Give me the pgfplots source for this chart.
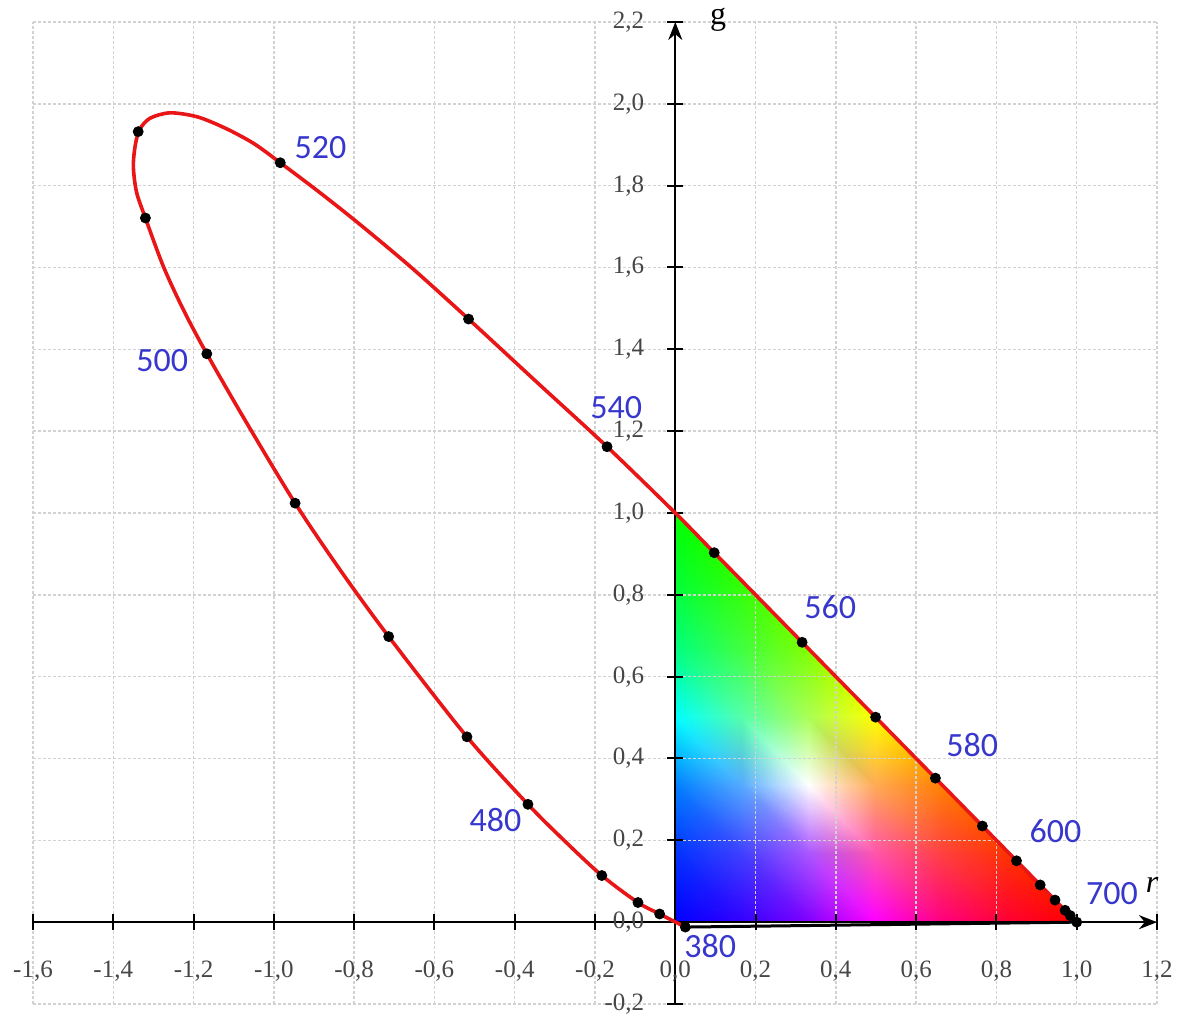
\documentclass[border=0pt]{standalone}
\usepackage{fontspec}
\setmainfont{Liberation Serif}
\newfontfamily\lblfont{Carlito}
\usepackage{pgfplots}
\pgfplotsset{compat=1.18}
\usetikzlibrary{arrows.meta}
\definecolor{lblblue}{RGB}{55,55,205}
\definecolor{ticklbl}{RGB}{70,70,70}
\definecolor{curvered}{RGB}{232,22,22}
\begin{document}
\begin{tikzpicture}
\begin{axis}[
  scale only axis,
  width=562pt, height=491pt,
  xmin=-1.6, xmax=1.2, ymin=-0.2, ymax=2.2,
  axis lines=middle,
  set layers=standard,
  clip=false,
  axis line style={line width=1.2pt, -{Stealth[length=9pt,width=7pt]}},
  xtick={-1.6,-1.4,-1.2,-1.0,-0.8,-0.6,-0.4,-0.2,0,0.2,0.4,0.6,0.8,1.0,1.2},
  ytick={-0.2,0,0.2,0.4,0.6,0.8,1.0,1.2,1.4,1.6,1.8,2.0,2.2},
  hide obscured x ticks=false, hide obscured y ticks=false,
  grid=major,
  grid style={gray!35, line width=0.7pt, dash pattern=on 1.5pt off 1pt},
  major tick length=8pt,
  tick style={black, line width=1pt},
  /pgf/number format/.cd, use comma, fixed, fixed zerofill, precision=1, assume math mode=true,
  /pgfplots/.cd,
  x tick label style={font=\fontsize{12.5}{14}\selectfont, text=ticklbl, yshift=-12pt},
  y tick label style={font=\fontsize{12.5}{14}\selectfont, text=ticklbl, xshift=-8pt},
]
% colour triangle (vertex colours given explicitly)
\addplot[patch, patch type=triangle, shader=interp, mesh/color input=explicit,
  point meta=explicit symbolic, on layer=axis background] table[meta=c] {
x y c
0 0 rgb=0,0,1
0.1667 0 rgb=0.2,0,1
0 0.1667 rgb=0,0.2,1
0.1667 0 rgb=0.2,0,1
0.3333 0 rgb=0.5,0,1
0.1667 0.1667 rgb=0.25,0.25,1
0.3333 0 rgb=0.5,0,1
0.5 0 rgb=1,0,1
0.3333 0.1667 rgb=0.667,0.333,1
0.5 0 rgb=1,0,1
0.6667 0 rgb=1,0,0.5
0.5 0.1667 rgb=1,0.333,0.667
0.6667 0 rgb=1,0,0.5
0.8333 0 rgb=1,0,0.2
0.6667 0.1667 rgb=1,0.25,0.25
0.8333 0 rgb=1,0,0.2
1 0 rgb=1,0,0
0.8333 0.1667 rgb=1,0.2,0
0.1667 0 rgb=0.2,0,1
0.1667 0.1667 rgb=0.25,0.25,1
0 0.1667 rgb=0,0.2,1
0.3333 0 rgb=0.5,0,1
0.3333 0.1667 rgb=0.667,0.333,1
0.1667 0.1667 rgb=0.25,0.25,1
0.5 0 rgb=1,0,1
0.5 0.1667 rgb=1,0.333,0.667
0.3333 0.1667 rgb=0.667,0.333,1
0.6667 0 rgb=1,0,0.5
0.6667 0.1667 rgb=1,0.25,0.25
0.5 0.1667 rgb=1,0.333,0.667
0.8333 0 rgb=1,0,0.2
0.8333 0.1667 rgb=1,0.2,0
0.6667 0.1667 rgb=1,0.25,0.25
0 0.1667 rgb=0,0.2,1
0.1667 0.1667 rgb=0.25,0.25,1
0 0.3333 rgb=0,0.5,1
0.1667 0.1667 rgb=0.25,0.25,1
0.3333 0.1667 rgb=0.667,0.333,1
0.1667 0.3333 rgb=0.333,0.667,1
0.3333 0.1667 rgb=0.667,0.333,1
0.5 0.1667 rgb=1,0.333,0.667
0.3333 0.3333 rgb=1,1,1
0.5 0.1667 rgb=1,0.333,0.667
0.6667 0.1667 rgb=1,0.25,0.25
0.5 0.3333 rgb=1,0.667,0.333
0.6667 0.1667 rgb=1,0.25,0.25
0.8333 0.1667 rgb=1,0.2,0
0.6667 0.3333 rgb=1,0.5,0
0.1667 0.1667 rgb=0.25,0.25,1
0.1667 0.3333 rgb=0.333,0.667,1
0 0.3333 rgb=0,0.5,1
0.3333 0.1667 rgb=0.667,0.333,1
0.3333 0.3333 rgb=1,1,1
0.1667 0.3333 rgb=0.333,0.667,1
0.5 0.1667 rgb=1,0.333,0.667
0.5 0.3333 rgb=1,0.667,0.333
0.3333 0.3333 rgb=1,1,1
0.6667 0.1667 rgb=1,0.25,0.25
0.6667 0.3333 rgb=1,0.5,0
0.5 0.3333 rgb=1,0.667,0.333
0 0.3333 rgb=0,0.5,1
0.1667 0.3333 rgb=0.333,0.667,1
0 0.5 rgb=0,1,1
0.1667 0.3333 rgb=0.333,0.667,1
0.3333 0.3333 rgb=1,1,1
0.1667 0.5 rgb=0.333,1,0.667
0.3333 0.3333 rgb=1,1,1
0.5 0.3333 rgb=1,0.667,0.333
0.3333 0.5 rgb=0.667,1,0.333
0.5 0.3333 rgb=1,0.667,0.333
0.6667 0.3333 rgb=1,0.5,0
0.5 0.5 rgb=1,1,0
0.1667 0.3333 rgb=0.333,0.667,1
0.1667 0.5 rgb=0.333,1,0.667
0 0.5 rgb=0,1,1
0.3333 0.3333 rgb=1,1,1
0.3333 0.5 rgb=0.667,1,0.333
0.1667 0.5 rgb=0.333,1,0.667
0.5 0.3333 rgb=1,0.667,0.333
0.5 0.5 rgb=1,1,0
0.3333 0.5 rgb=0.667,1,0.333
0 0.5 rgb=0,1,1
0.1667 0.5 rgb=0.333,1,0.667
0 0.6667 rgb=0,1,0.5
0.1667 0.5 rgb=0.333,1,0.667
0.3333 0.5 rgb=0.667,1,0.333
0.1667 0.6667 rgb=0.25,1,0.25
0.3333 0.5 rgb=0.667,1,0.333
0.5 0.5 rgb=1,1,0
0.3333 0.6667 rgb=0.5,1,0
0.1667 0.5 rgb=0.333,1,0.667
0.1667 0.6667 rgb=0.25,1,0.25
0 0.6667 rgb=0,1,0.5
0.3333 0.5 rgb=0.667,1,0.333
0.3333 0.6667 rgb=0.5,1,0
0.1667 0.6667 rgb=0.25,1,0.25
0 0.6667 rgb=0,1,0.5
0.1667 0.6667 rgb=0.25,1,0.25
0 0.8333 rgb=0,1,0.2
0.1667 0.6667 rgb=0.25,1,0.25
0.3333 0.6667 rgb=0.5,1,0
0.1667 0.8333 rgb=0.2,1,0
0.1667 0.6667 rgb=0.25,1,0.25
0.1667 0.8333 rgb=0.2,1,0
0 0.8333 rgb=0,1,0.2
0 0.8333 rgb=0,1,0.2
0.1667 0.8333 rgb=0.2,1,0
0 1 rgb=0,1,0
};
% line of purples
\addplot[black, line width=1.5pt] coordinates {(0.025,-0.012) (1.0,0)};
% spectral locus
\addplot[curvered, line width=1.8pt, smooth, tension=0.5] coordinates {
(0.025,-0.012) (-0.039,0.020) (-0.093,0.048) (-0.183,0.114) (-0.273,0.196)
(-0.367,0.288) (-0.519,0.453) (-0.714,0.698) (-0.835,0.861) (-0.947,1.024)
(-1.067,1.219) (-1.167,1.389) (-1.225,1.496) (-1.275,1.602) (-1.320,1.721)
(-1.342,1.784) (-1.350,1.847) (-1.345,1.900) (-1.334,1.938) (-1.308,1.965)
(-1.258,1.978) (-1.190,1.968) (-1.120,1.940) (-1.050,1.903) (-0.984,1.856)
(-0.884,1.782) (-0.784,1.704) (-0.654,1.597) (-0.515,1.474) (-0.343,1.318)
(-0.170,1.162) (0,1)
(0.097,0.903) (0.316,0.684) (0.499,0.501) (0.648,0.352) (0.765,0.235)
(0.850,0.150) (0.909,0.091) (0.946,0.054) (0.971,0.029) (0.984,0.016) (1.0,0)
};
% marked wavelengths
\addplot[only marks, mark=*, mark size=2.5pt, black] coordinates {
(0.025,-0.012) (-0.039,0.020) (-0.093,0.048) (-0.183,0.114)
(-0.367,0.288) (-0.519,0.453) (-0.714,0.698) (-0.947,1.024) (-1.167,1.389)
(-1.320,1.721) (-1.338,1.932) (-0.984,1.856) (-0.515,1.474) (-0.170,1.162)
(0.097,0.903) (0.316,0.684) (0.499,0.501) (0.648,0.352) (0.765,0.235)
(0.850,0.150) (0.909,0.091) (0.946,0.054) (0.971,0.029) (0.984,0.016) (1.0,0)
};
\begin{scope}[every node/.style={text=lblblue, font=\lblfont\fontsize{17}{17}\selectfont}]
\node at (axis cs:-0.884,1.892) {520};
\node at (axis cs:-1.278,1.372) {500};
\node at (axis cs:-0.147,1.257) {540};
\node at (axis cs:0.386,0.770) {560};
\node at (axis cs:0.740,0.433) {580};
\node at (axis cs:0.947,0.222) {600};
\node at (axis cs:1.088,0.071) {700};
\node at (axis cs:-0.448,0.249) {480};
\node at (axis cs:0.087,-0.059) {380};
\end{scope}
\node[font=\fontsize{16}{16}\selectfont] at (axis cs:0.107,2.205) {g};
\node[font=\fontsize{16}{16}\selectfont\itshape] at (axis cs:1.188,0.092) {r};
\coordinate (bbsw) at (axis cs:-1.6,-0.2);
\coordinate (bbne) at (axis cs:1.2,2.2);
\end{axis}
\pgfresetboundingbox
\path[use as bounding box] ([xshift=-16.5pt,yshift=-9.5pt]bbsw) rectangle ([xshift=11.5pt,yshift=11pt]bbne);
\end{tikzpicture}
\end{document}
